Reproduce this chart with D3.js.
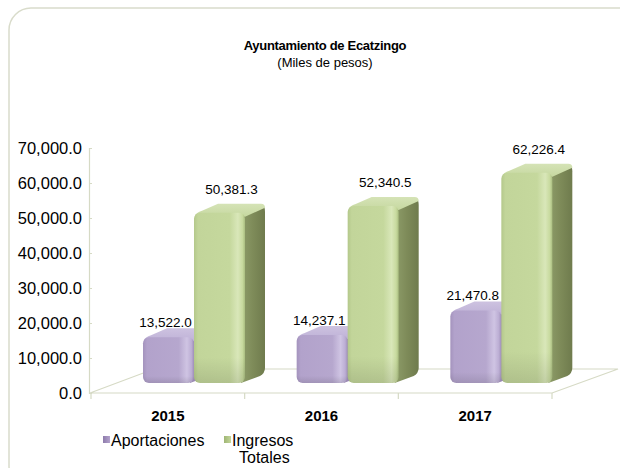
<!DOCTYPE html>
<html>
<head>
<meta charset="utf-8">
<script src="https://cdn.jsdelivr.net/npm/d3@7"></script>
<style>
  html, body { margin: 0; padding: 0; background: #fff; }
  svg { display: block; font-family: "Liberation Sans", Arial, sans-serif; }
</style>
</head>
<body>
<svg id="chart" width="620" height="468"></svg>
<script>
// ---- data ----
const years = ["2015", "2016", "2017"];
const aportaciones = [13522.0, 14237.1, 21470.8];
const ingresosTotales = [50381.3, 52340.5, 62226.4];
const seriesNames = ["Aportaciones", "Ingresos Totales"];
const yTickValues = [0, 10000, 20000, 30000, 40000, 50000, 60000, 70000];
const titleText = "Ayuntamiento de Ecatzingo";
const subtitleText = "(Miles de pesos)";

const svg = d3.select("#chart");
const fmt = d3.format(",.1f");

// ---- gradients ----
const defs = svg.append("defs");
function hGrad(id, stops) {
  const g = defs.append("linearGradient").attr("id", id)
    .attr("x1", "0").attr("y1", "0").attr("x2", "1").attr("y2", "0");
  stops.forEach(s => g.append("stop").attr("offset", s[0]).attr("stop-color", s[1]));
}
function vGrad(id, stops) {
  const g = defs.append("linearGradient").attr("id", id)
    .attr("x1", "0").attr("y1", "0").attr("x2", "0").attr("y2", "1");
  stops.forEach(s => g.append("stop").attr("offset", s[0]).attr("stop-color", s[1]));
}
hGrad("pFront", [[0, "#a493bd"], [0.08, "#b2a2cb"], [0.7, "#b6a7ce"], [0.86, "#cfc4e3"], [0.95, "#bcaed4"], [1, "#9f8fb8"]]);
vGrad("pTop", [[0, "#cdc2e0"], [1, "#bfb2d7"]]);
hGrad("gFront", [[0, "#b4c88b"], [0.08, "#c2d59a"], [0.7, "#c5d89d"], [0.86, "#d9e7b9"], [0.95, "#c8da9f"], [1, "#a9bd80"]]);
hGrad("gSide", [[0, "#8e9d6a"], [0.5, "#7e8b59"], [1, "#6f7b4d"]]);
vGrad("gTop", [[0, "#d5e3b6"], [1, "#c6d8a0"]]);
vGrad("shadeBottom", [[0, "rgba(0,0,0,0)"], [0.85, "rgba(0,0,0,0)"], [1, "rgba(0,0,0,0.10)"]]);
hGrad("pLeg", [[0, "#8d7bab"], [1, "#b3a2cc"]]);
hGrad("gLeg", [[0, "#9fb574"], [1, "#c4d79b"]]);

// ---- frame ----
svg.append("rect")
  .attr("x", 9).attr("y", 8).attr("width", 640).attr("height", 480)
  .attr("rx", 22).attr("ry", 22)
  .attr("fill", "none").attr("stroke", "#d9dccb").attr("stroke-width", 1.5);

// ---- title ----
svg.append("text").attr("x", 325).attr("y", 50).attr("text-anchor", "middle")
  .attr("font-size", 13).attr("font-weight", "bold").attr("letter-spacing", -0.3)
  .attr("fill", "#000").text(titleText);
svg.append("text").attr("x", 325).attr("y", 67).attr("text-anchor", "middle")
  .attr("font-size", 13).attr("fill", "#000").text(subtitleText);

// ---- scales ----
const y = d3.scaleLinear().domain([0, 70000]).range([393, 148]);
const yBar = d3.scaleLinear().domain([0, 70000]).range([383, 146.4]);
const x = d3.scaleBand().domain(years).range([91, 552]);
const xs = d3.scaleBand().domain(seriesNames).range([52, 154]);
const depth = { dx: 20, dy: -9 };
const floor = { front: 393, back: 369, backLeft: 154, backRight: 618 };
const lineCol = "#d6dac5";

// ---- floor ----
const [x0, x1] = x.range();
svg.append("path")
  .attr("d", d3.line()([[x0 - 1, floor.front], [x1, floor.front], [floor.backRight, floor.back], [floor.backLeft, floor.back], [x0 - 1, floor.front]]))
  .attr("fill", "none").attr("stroke", lineCol).attr("stroke-width", 1.2);

// ---- value axis ----
const yAxis = svg.append("g").attr("transform", "translate(89,0)")
  .call(d3.axisLeft(y).tickValues(yTickValues).tickSize(-3).tickPadding(7).tickFormat(fmt));
yAxis.select(".domain").attr("stroke", lineCol).attr("stroke-width", 1.2);
yAxis.selectAll(".tick line").attr("stroke", lineCol);
yAxis.selectAll(".tick text").attr("font-size", 16.5).attr("fill", "#000")
  .attr("font-family", "Liberation Sans, Arial, sans-serif");

// ---- category axis ----
const xAxis = svg.append("g").attr("transform", `translate(0,${floor.front})`)
  .call(d3.axisBottom(x).tickSize(0).tickPadding(17));
xAxis.select(".domain").remove();
xAxis.selectAll(".tick text").attr("font-size", 15).attr("font-weight", "bold").attr("fill", "#000")
  .attr("font-family", "Liberation Sans, Arial, sans-serif");
const bounds = years.map(d => x(d)).concat([x1]);
svg.append("g").selectAll("line").data(bounds).join("line")
  .attr("x1", d => d).attr("x2", d => d)
  .attr("y1", floor.front).attr("y2", floor.front + 6)
  .attr("stroke", lineCol).attr("stroke-width", 1.2);

// ---- bars ----
const bars = [];
years.forEach((yr, i) => {
  bars.push({ yr, s: seriesNames[0], v: aportaciones[i], kind: "p" });
  bars.push({ yr, s: seriesNames[1], v: ingresosTotales[i], kind: "g" });
});

const gBars = svg.append("g");
bars.forEach(b => {
  const bx0 = x(b.yr) + xs(b.s);
  const bw = xs.bandwidth();
  const bx1 = bx0 + bw;
  const yt = yBar(b.v);
  const yb = yBar(0);
  const g = gBars.append("g");
  const r = 6;
  // side face
  g.append("path")
    .attr("d", `M${bx1 - 2},${yt + 2} L${bx1 + depth.dx - 2},${yt + depth.dy + 2} Q${bx1 + depth.dx},${yt + depth.dy + 3} ${bx1 + depth.dx},${yt + depth.dy + 8}
                L${bx1 + depth.dx},${yb + depth.dy - 6} Q${bx1 + depth.dx},${yb + depth.dy - 1} ${bx1 + depth.dx - 5},${yb + depth.dy + 2}
                L${bx1 - 4},${yb} Z`)
    .attr("fill", b.kind === "g" ? "url(#gSide)" : "#9a89b3");
  // top face
  g.append("path")
    .attr("d", `M${bx0 + 1},${yt + 3} Q${bx0 + 2},${yt} ${bx0 + 8},${yt - 2}
                L${bx0 + depth.dx + 4},${yt + depth.dy} L${bx1 + depth.dx - 4},${yt + depth.dy}
                Q${bx1 + depth.dx},${yt + depth.dy} ${bx1 + depth.dx},${yt + depth.dy + 4}
                L${bx1},${yt + 4} Z`)
    .attr("fill", b.kind === "g" ? "url(#gTop)" : "url(#pTop)");
  // front face
  g.append("rect")
    .attr("x", bx0).attr("y", yt).attr("width", bw).attr("height", yb - yt)
    .attr("rx", r).attr("ry", r)
    .attr("fill", b.kind === "g" ? "url(#gFront)" : "url(#pFront)");
  g.append("rect")
    .attr("x", bx0).attr("y", yt).attr("width", bw).attr("height", yb - yt)
    .attr("rx", r).attr("ry", r)
    .attr("fill", "url(#shadeBottom)");
});

// ---- data labels ----
svg.append("g").selectAll("text").data(bars).join("text")
  .attr("x", d => x(d.yr) + xs(d.s) + xs.bandwidth() / 2 + (d.kind === "g" ? 12 : -3))
  .attr("y", d => yBar(d.v) - (d.kind === "g" ? 19 : 10))
  .attr("text-anchor", "middle")
  .attr("font-size", 13.5).attr("fill", "#000")
  .text(d => fmt(d.v));

// ---- legend ----
const leg = svg.append("g");
leg.append("rect").attr("x", 103).attr("y", 436).attr("width", 7).attr("height", 7).attr("fill", "url(#pLeg)");
leg.append("text").attr("x", 111).attr("y", 446).attr("font-size", 16).attr("fill", "#000").text(seriesNames[0]);
leg.append("rect").attr("x", 224).attr("y", 436).attr("width", 7).attr("height", 7).attr("fill", "url(#gLeg)");
const words = seriesNames[1].split(" ");
leg.append("text").attr("x", 232).attr("y", 446).attr("font-size", 16).attr("fill", "#000").text(words[0]);
leg.append("text").attr("x", 239).attr("y", 463).attr("font-size", 16).attr("fill", "#000").text(words[1]);
</script>
</body>
</html>
